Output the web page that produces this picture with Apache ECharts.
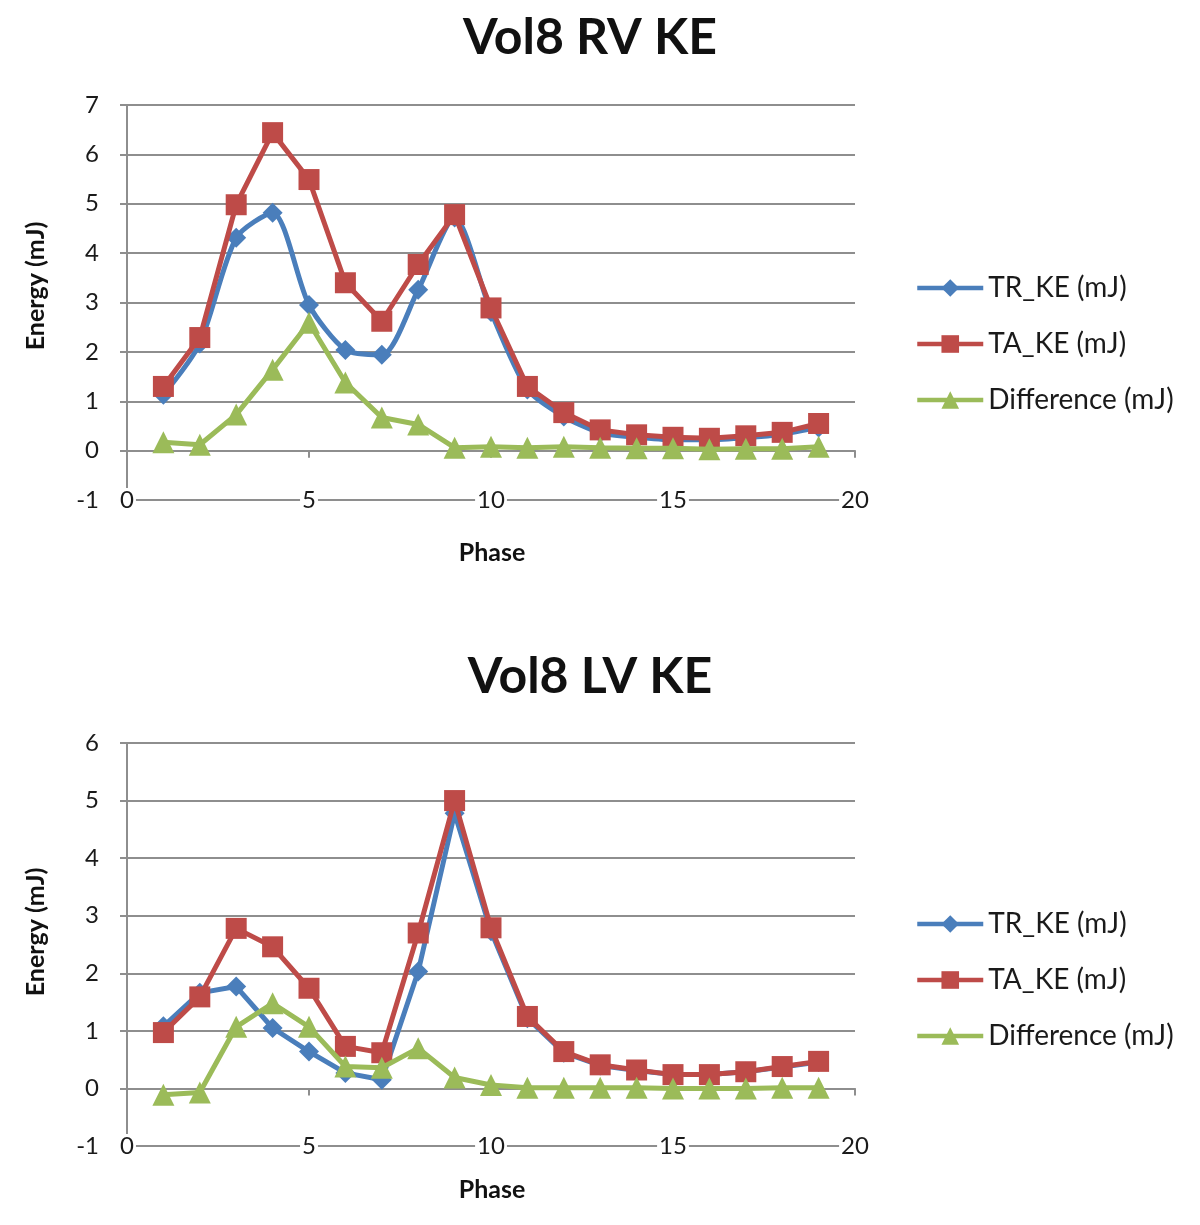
<!DOCTYPE html>
<html>
<head>
<meta charset="utf-8">
<script src="https://cdn.jsdelivr.net/npm/echarts@6/dist/echarts.min.js"></script>
<style>
html,body{margin:0;padding:0;background:#fff;}
#chart{width:1200px;height:1225px;}
</style>
</head>
<body>
<div id="chart"></div>
<script>
// ---- data ----
const phases = [1,2,3,4,5,6,7,8,9,10,11,12,13,14,15,16,17,18,19];
const seriesNames = ['TR_KE (mJ)', 'TA_KE (mJ)', 'Difference (mJ)'];
const chartTitles = ['Vol8 RV KE', 'Vol8 LV KE'];
const xTicks = [0, 5, 10, 15, 20];

const rvTR   = [1.13, 2.17, 4.31, 4.82, 2.95, 2.04, 1.94, 3.26, 4.72, 2.81, 1.24, 0.69, 0.36, 0.27, 0.22, 0.22, 0.26, 0.33, 0.47];
const rvTA   = [1.30, 2.29, 4.98, 6.44, 5.49, 3.40, 2.62, 3.77, 4.78, 2.89, 1.30, 0.77, 0.42, 0.32, 0.27, 0.25, 0.30, 0.37, 0.55];
const rvDiff = [0.17, 0.12, 0.73, 1.64, 2.59, 1.38, 0.67, 0.53, 0.06, 0.08, 0.06, 0.08, 0.06, 0.05, 0.05, 0.03, 0.04, 0.04, 0.08];

const lvTR   = [1.08, 1.66, 1.77, 1.05, 0.64, 0.27, 0.15, 2.03, 4.78, 2.73, 1.22, 0.62, 0.40, 0.31, 0.24, 0.24, 0.29, 0.37, 0.46];
const lvTA   = [0.97, 1.59, 2.78, 2.46, 1.74, 0.73, 0.62, 2.70, 5.00, 2.79, 1.25, 0.64, 0.41, 0.32, 0.24, 0.24, 0.29, 0.38, 0.47];
const lvDiff = [-0.11, -0.07, 1.07, 1.48, 1.07, 0.38, 0.36, 0.70, 0.19, 0.06, 0.01, 0.01, 0.01, 0.01, 0.00, 0.00, 0.00, 0.01, 0.01];

const yRangeRV = [-1, 7];
const yRangeLV = [-1, 6];

// ---- styles ----
const FONT = 'Lato, "Open Sans", sans-serif';
const GRID_COLOR = '#8e8e8e';
const colors = ['#4a7ebb', '#be4b48', '#9bbb59'];
const symbols = ['diamond', 'rect', 'triangle'];
const symbolSizes = [20, 21, 22];

const pairs = vals => phases.map((p, i) => [p, vals[i]]);

const grids = [
  {left: 127, width: 728, top: 105, height: 395},
  {left: 127, width: 728, top: 743, height: 403}
];

function xAxesFor(gi) {
  return [
    { // axis line at zero with ticks
      type: 'value', gridIndex: gi, min: 0, max: 20, interval: 5, position: 'bottom',
      axisLine: {show: true, onZero: true, lineStyle: {color: GRID_COLOR, width: 2}},
      axisTick: {show: true, length: 7, lineStyle: {color: GRID_COLOR, width: 2}},
      axisLabel: {show: false},
      splitLine: {show: false}
    },
    { // labels at the bottom edge
      type: 'value', gridIndex: gi, min: 0, max: 20, interval: 5, position: 'bottom',
      axisLine: {show: false, onZero: false},
      axisTick: {show: false},
      splitLine: {show: false},
      axisLabel: {
        show: true, margin: -12, fontSize: 24, color: '#1a1a1a', fontFamily: FONT,
        backgroundColor: '#fff', padding: [0, 2], showMinLabel: true, showMaxLabel: true,
        formatter: v => (xTicks.indexOf(v) >= 0 ? String(v) : '')
      }
    }
  ];
}

function yAxisFor(gi, range) {
  return {
    type: 'value', gridIndex: gi, min: range[0], max: range[1], interval: 1,
    axisLine: {show: true, lineStyle: {color: GRID_COLOR, width: 2}},
    axisTick: {show: true, length: 7, lineStyle: {color: GRID_COLOR, width: 2}},
    axisLabel: {margin: 28, fontSize: 24, color: '#1a1a1a', fontFamily: FONT},
    splitLine: {show: true, lineStyle: {color: GRID_COLOR, width: 2}}
  };
}

function seriesFor(gi, xIdx, datasets, smoothBlue) {
  return datasets.map((d, k) => ({
    name: seriesNames[k], type: 'line', xAxisIndex: xIdx, yAxisIndex: gi,
    data: pairs(d), smooth: (k === 0 && smoothBlue) ? 0.25 : false,
    symbol: symbols[k], symbolSize: symbolSizes[k],
    lineStyle: {color: colors[k], width: 5},
    itemStyle: {color: colors[k]},
    z: 2 + k
  }));
}

function legendFor(top) {
  return {
    orient: 'vertical', left: 915, top: top, padding: 0,
    itemWidth: 66, itemHeight: 22, itemGap: 28,
    data: seriesNames,
    lineStyle: {width: 4.5},
    textStyle: {fontSize: 28, color: '#1a1a1a', fontFamily: FONT, lineHeight: 28},
    selectedMode: false
  };
}

function txt(x, y, text, size, rot) {
  return {
    type: 'text', x: x, y: y, rotation: rot || 0,
    style: {text: text, fill: '#111', font: 'bold ' + size + 'px ' + FONT,
            align: 'center', verticalAlign: 'middle', textAlign: 'center', textVerticalAlign: 'middle'}
  };
}

const option = {
  backgroundColor: '#fff',
  animation: false,
  grid: grids,
  xAxis: [...xAxesFor(0), ...xAxesFor(1)],
  yAxis: [yAxisFor(0, yRangeRV), yAxisFor(1, yRangeLV)],
  legend: [legendFor(274), legendFor(910)],
  series: [
    ...seriesFor(0, 0, [rvTR, rvTA, rvDiff], true),
    ...seriesFor(1, 2, [lvTR, lvTA, lvDiff], false)
  ],
  graphic: [
    txt(590, 38, chartTitles[0], 50),
    txt(590, 677, chartTitles[1], 50),
    txt(36, 286, 'Energy (mJ)', 25, Math.PI / 2),
    txt(36, 932, 'Energy (mJ)', 25, Math.PI / 2),
    txt(492, 553, 'Phase', 25),
    txt(492, 1190, 'Phase', 25)
  ]
};

const chart = echarts.init(document.getElementById('chart'), null, {renderer: 'canvas'});
chart.setOption(option);
</script>
</body>
</html>
